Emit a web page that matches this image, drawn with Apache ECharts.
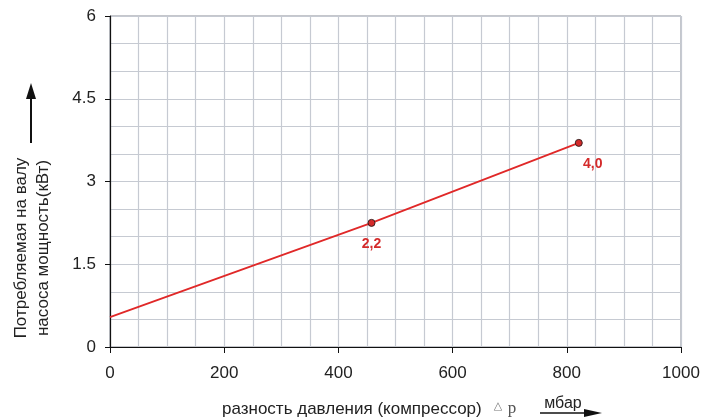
<!DOCTYPE html>
<html><head><meta charset="utf-8">
<script src="https://cdn.jsdelivr.net/npm/echarts@6/dist/echarts.min.js"></script>
<style>html,body{margin:0;padding:0;background:#fff}#c{width:716px;height:419px}</style>
</head><body><div id="c"></div>
<script>
const pressure = [0, 458, 821];
const power = [0.54, 2.25, 3.7];
const pointLabels = ['', '2,2', '4,0'];
const xTicks = [0, 200, 400, 600, 800, 1000];
const yTicks = [0, 1.5, 3, 4.5, 6];
const yName1 = 'Потребляемая на валу';
const yName2 = 'насоса мощность(кВт)';
const xName = 'разность давления (компрессор)';
const xUnit = 'мбар';

const font = 'Liberation Sans, Arial, sans-serif';
const gridColor = '#c6cad2';
const red = '#e02828';

const data = pressure.map((x, i) => ({
  value: [x, power[i]],
  symbol: i === 0 ? 'none' : 'circle',
  label: { show: pointLabels[i] !== '', formatter: pointLabels[i],
    offset: i === 2 ? [14, 0] : [0, 0] }
}));

const chart = echarts.init(document.getElementById('c'), null, {renderer: 'canvas'});
chart.setOption({
  animation: false,
  grid: { left: 110, right: 35, top: 16, bottom: 72, show: true, borderColor: '#8a8f98', borderWidth: 1 },
  xAxis: {
    type: 'value', min: 0, max: 1000, interval: 200,
    axisLine: { lineStyle: { color: '#111', width: 1.2 } },
    axisTick: { show: true, length: 6, lineStyle: { color: '#111' } },
    axisLabel: { margin: 18, fontSize: 17, color: '#222', fontFamily: font,
      formatter: v => xTicks.includes(v) ? String(v) : '' },
    splitLine: { show: true, lineStyle: { color: gridColor, width: 1.2 } },
    minorTick: { show: false, splitNumber: 4 },
    minorSplitLine: { show: true, lineStyle: { color: gridColor, width: 1.2 } }
  },
  yAxis: {
    type: 'value', min: 0, max: 6, interval: 1.5,
    axisLine: { show: true, lineStyle: { color: '#111', width: 1.2 } },
    axisTick: { show: true, length: 5, lineStyle: { color: '#111' } },
    axisLabel: { margin: 14, fontSize: 17, color: '#222', fontFamily: font,
      formatter: v => yTicks.includes(v) ? String(v) : '' },
    splitLine: { show: true, lineStyle: { color: gridColor, width: 1.2 } },
    minorTick: { show: false, splitNumber: 3 },
    minorSplitLine: { show: true, lineStyle: { color: gridColor, width: 1.2 } }
  },
  series: [{
    type: 'line', data: data,
    lineStyle: { color: red, width: 1.8 },
    symbolSize: 7,
    itemStyle: { color: '#d42a2a', borderColor: '#3a2020', borderWidth: 1 },
    label: { position: 'bottom', distance: 10, color: '#d42a2a', fontWeight: 'bold', fontSize: 14, fontFamily: font }
  }],
  graphic: [
    { type: 'text', x: 21, y: 248, rotation: Math.PI / 2,
      style: { text: yName1, font: '17px ' + font, fill: '#222', textAlign: 'center', textVerticalAlign: 'middle' } },
    { type: 'text', x: 43, y: 248, rotation: Math.PI / 2,
      style: { text: yName2, font: '17px ' + font, fill: '#222', textAlign: 'center', textVerticalAlign: 'middle' } },
    { type: 'line', shape: { x1: 31, y1: 143, x2: 31, y2: 95 }, style: { stroke: '#111', lineWidth: 2 } },
    { type: 'polygon', shape: { points: [[31, 83], [26, 99], [36, 99]] }, style: { fill: '#111' } },
    { type: 'text', x: 222, y: 409,
      style: { text: xName, font: '17px ' + font, fill: '#222', textAlign: 'left', textVerticalAlign: 'middle' } },
    { type: 'text', x: 498, y: 406,
      style: { text: '△', font: '11px DejaVu Serif, serif', fill: '#777', textAlign: 'center', textVerticalAlign: 'middle' } },
    { type: 'text', x: 512, y: 409,
      style: { text: 'p', font: '17px Liberation Serif, serif', fill: '#555', textAlign: 'center', textVerticalAlign: 'middle' } },
    { type: 'text', x: 563, y: 404,
      style: { text: xUnit, font: '16px ' + font, fill: '#222', textAlign: 'center', textVerticalAlign: 'middle' } },
    { type: 'line', shape: { x1: 540, y1: 413, x2: 588, y2: 413 }, style: { stroke: '#111', lineWidth: 1.6 } },
    { type: 'polygon', shape: { points: [[602, 413], [584, 409], [584, 417]] }, style: { fill: '#111' } }
  ]
});
</script></body></html>
